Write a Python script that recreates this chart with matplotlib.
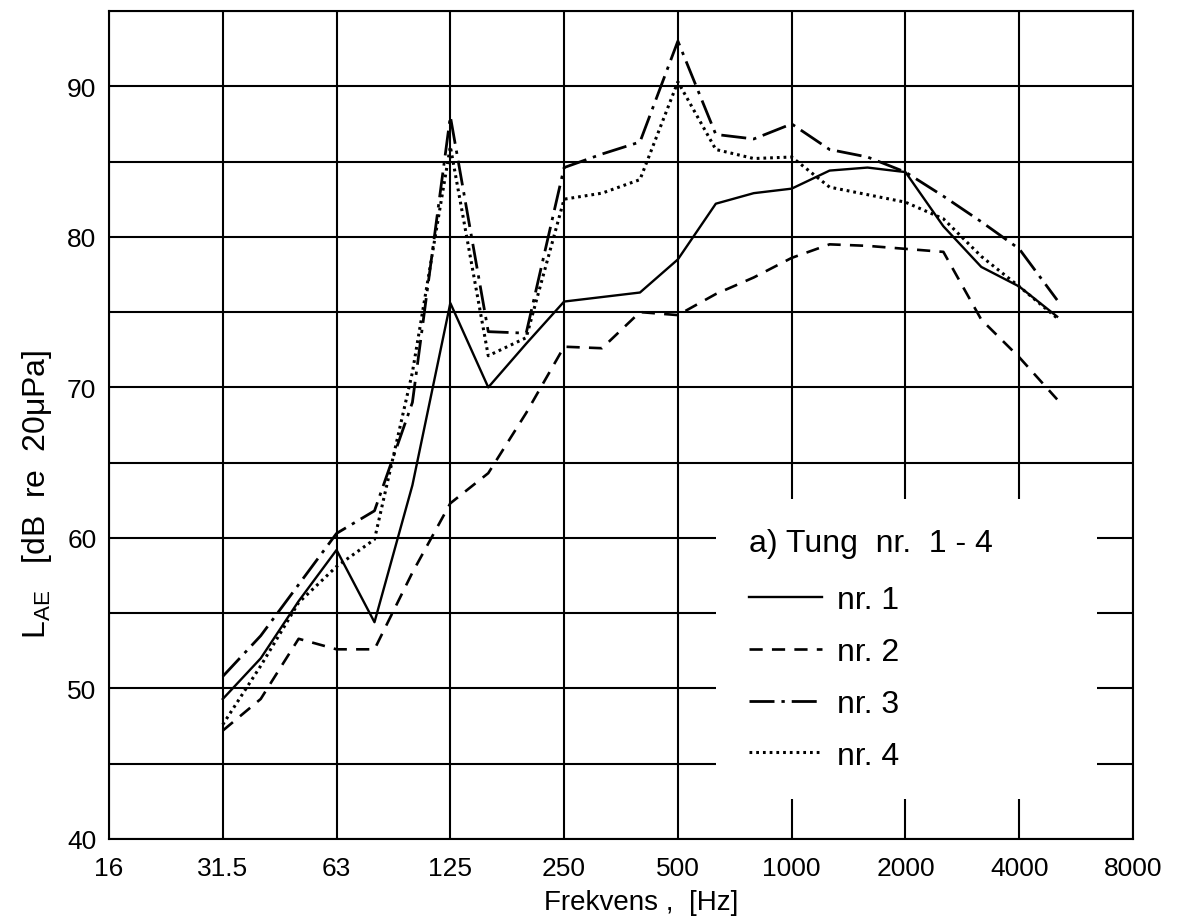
import numpy as np
import matplotlib.pyplot as plt
from matplotlib.patches import Rectangle

plt.rcParams['font.family'] = ['Liberation Sans', 'DejaVu Sans']
plt.rcParams['mathtext.default'] = 'regular'

# third-octave bands 31.5 Hz .. 5000 Hz
bands = ['31.5', '40', '50', '63', '80', '100', '125', '160', '200', '250', '315', '400',
         '500', '630', '800', '1000', '1250', '1600', '2000', '2500', '3150', '4000', '5000']

nr1 = [49.3, 52.0, 55.8, 59.2, 54.4, 63.5, 75.6, 70.0, 72.9, 75.7, 76.0, 76.3,
       78.5, 82.2, 82.9, 83.2, 84.4, 84.6, 84.3, 80.7, 78.0, 76.7, 74.7]
nr2 = [47.2, 49.3, 53.3, 52.6, 52.6, 57.7, 62.3, 64.3, 68.3, 72.7, 72.6, 75.0,
       74.8, 76.2, 77.3, 78.6, 79.5, 79.4, 79.2, 79.0, 74.5, 72.0, 69.2]
nr3 = [50.8, 53.5, 56.9, 60.3, 61.8, 69.0, 88.0, 73.7, 73.6, 84.6, 85.5, 86.3,
       93.0, 86.8, 86.5, 87.5, 85.8, 85.3, 84.3, 82.7, 81.0, 79.2, 75.8]
nr4 = [47.6, 51.5, 55.7, 58.1, 59.9, 71.0, 86.0, 72.1, 73.3, 82.5, 82.9, 83.8,
       90.3, 85.8, 85.2, 85.3, 83.3, 82.8, 82.3, 81.2, 78.7, 76.7, 74.6]

oct_labels = ['16', '31.5', '63', '125', '250', '500', '1000', '2000', '4000', '8000']

# exact band centres on base-2 grid (31.5 -> 32, 63 -> 64 ...)
x = 32 * 2 ** (np.arange(len(bands)) / 3)
xt = 16 * 2 ** np.arange(len(oct_labels))

fig = plt.figure(figsize=(11.84, 9.2), dpi=100)
ax = fig.add_axes([109/1184, 80/920, 1024/1184, 828/920])

ax.plot(x, nr1, color='black', lw=1.7, ls='-', label='nr. 1')
ax.plot(x, nr2, color='black', lw=1.9, ls=(0, (5, 3.5)), label='nr. 2')
ax.plot(x, nr3, color='black', lw=2.0, ls=(0, (9, 2.5, 1.2, 2.5)), label='nr. 3')
ax.plot(x, nr4, color='black', lw=2.2, ls=(0, (0.9, 1.3)), label='nr. 4')

ax.set_xscale('log', base=2)
ax.set_xlim(16, 8192)
ax.set_ylim(40, 95)
ax.set_xticks(xt)
ax.set_xticklabels(oct_labels)
ax.xaxis.set_minor_locator(plt.NullLocator())
ax.set_yticks(np.arange(40, 91, 10))
ax.set_yticks(np.arange(45, 96, 10), minor=True)
ax.tick_params(axis='both', which='both', length=0, labelsize=19)
ax.tick_params(axis='x', pad=12)
ax.tick_params(axis='y', pad=9)

ax.set_axisbelow(True)
ax.grid(True, which='both', color='black', lw=1.5)
for s in ax.spines.values():
    s.set_linewidth(1.5)

# white box behind the legend
ax.add_patch(Rectangle((0.593, 0.048), 0.372, 0.363, transform=ax.transAxes,
                       facecolor='white', edgecolor='none', zorder=1))

leg = ax.legend(loc='upper left', bbox_to_anchor=(0.625, 0.376), frameon=False,
                title='a) Tung  nr.  1 - 4', fontsize=23, title_fontsize=23,
                handlelength=2.3, handletextpad=0.45, labelspacing=0.68,
                borderpad=0, borderaxespad=0, alignment='left')
leg._legend_box.sep = 20

ax.set_xlabel('Frekvens ,  [Hz]', fontsize=20)
ax.xaxis.set_label_coords(0.52, -0.06)
ax.set_ylabel('L$_{AE}$   [dB  re  20μPa]', fontsize=23, va='center')
ax.yaxis.set_label_coords(-0.07, 0.417)

fig.savefig('out.png', dpi=100)
